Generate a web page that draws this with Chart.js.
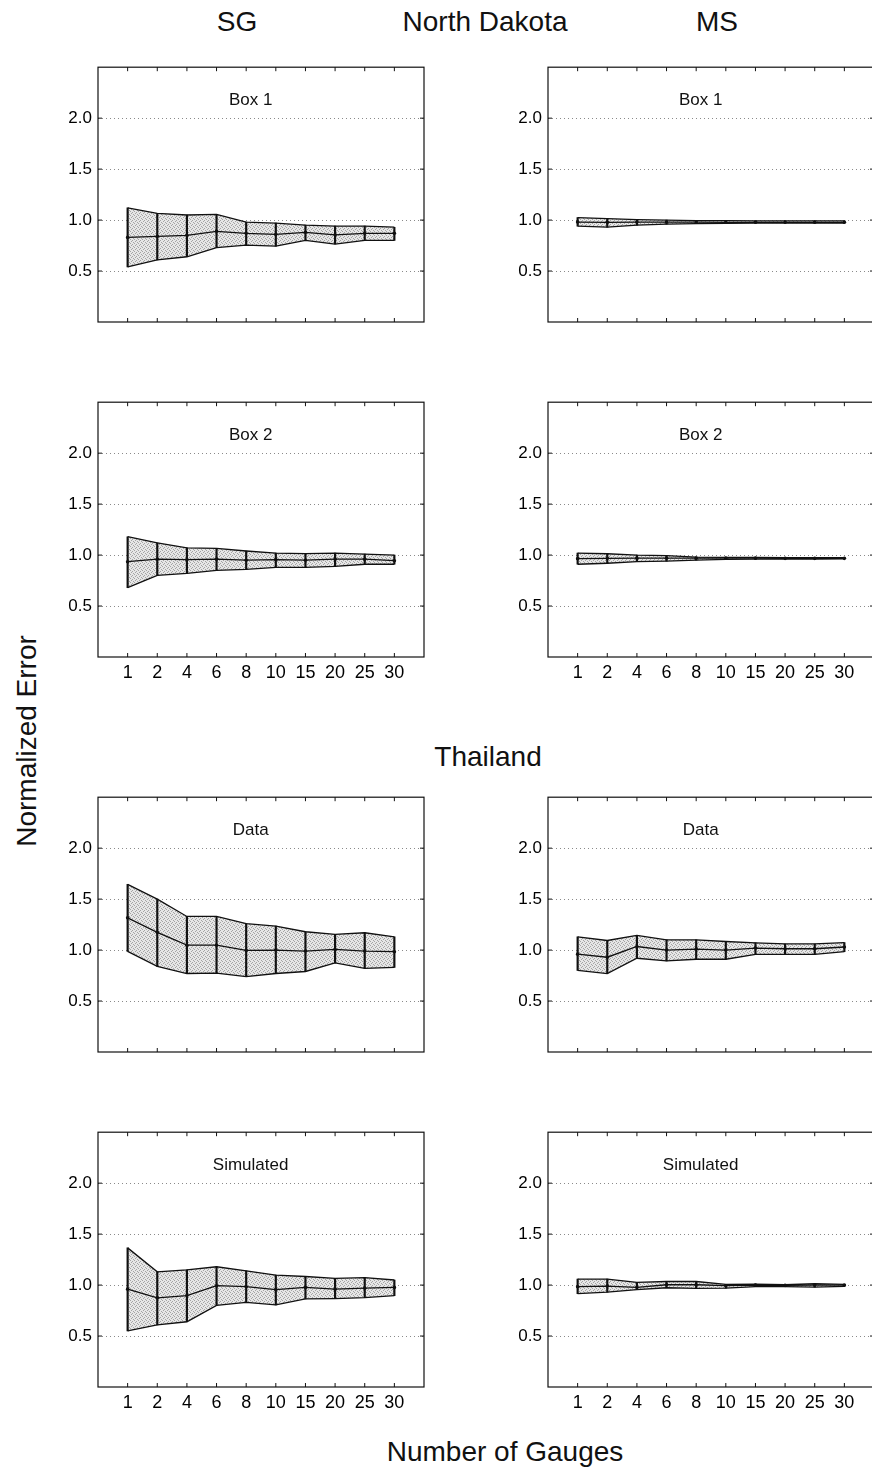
<!DOCTYPE html>
<html>
<head>
<meta charset="utf-8">
<script src="https://cdn.jsdelivr.net/npm/chart.js@4.4.1/dist/chart.umd.min.js"></script>
<style>
  html, body { margin: 0; padding: 0; width: 872px; height: 1469px; overflow: hidden; background: #fff; }
  body { position: relative; font-family: Arial, "Liberation Sans", sans-serif; color: #111; }
  .lbl { position: absolute; font-size: 28px; white-space: nowrap; transform: translate(-50%, -50%); }
  canvas { position: absolute; }
</style>
</head>
<body>
<div class="lbl" style="left:237px;top:22px">SG</div>
<div class="lbl" style="left:485px;top:22px">North Dakota</div>
<div class="lbl" style="left:717px;top:22px">MS</div>
<div class="lbl" style="left:488px;top:757px">Thailand</div>
<div class="lbl" style="left:505px;top:1452px">Number of Gauges</div>
<div class="lbl" style="left:27px;top:741px;transform:translate(-50%,-50%) rotate(-90deg)">Normalized Error</div>

<canvas id="c1" width="410" height="311" style="left:30px;top:51px"></canvas>
<canvas id="c2" width="410" height="311" style="left:480px;top:51px"></canvas>
<canvas id="c3" width="410" height="311" style="left:30px;top:386px"></canvas>
<canvas id="c4" width="410" height="311" style="left:480px;top:386px"></canvas>
<canvas id="c5" width="410" height="311" style="left:30px;top:781px"></canvas>
<canvas id="c6" width="410" height="311" style="left:480px;top:781px"></canvas>
<canvas id="c7" width="410" height="311" style="left:30px;top:1116px"></canvas>
<canvas id="c8" width="410" height="311" style="left:480px;top:1116px"></canvas>

<script>
const gauges = ['1', '2', '4', '6', '8', '10', '15', '20', '25', '30'];
const yTicks = [0.5, 1.0, 1.5, 2.0];

// North Dakota - SG
const sgBox1Upper = [1.12, 1.065, 1.05, 1.055, 0.98, 0.97, 0.95, 0.94, 0.94, 0.93];
const sgBox1Mean  = [0.83, 0.84, 0.85, 0.89, 0.87, 0.86, 0.88, 0.855, 0.87, 0.87];
const sgBox1Lower = [0.54, 0.61, 0.64, 0.73, 0.755, 0.745, 0.80, 0.765, 0.80, 0.80];

const sgBox2Upper = [1.18, 1.12, 1.07, 1.065, 1.04, 1.02, 1.015, 1.02, 1.01, 1.0];
const sgBox2Mean  = [0.935, 0.96, 0.955, 0.96, 0.95, 0.955, 0.95, 0.96, 0.96, 0.945];
const sgBox2Lower = [0.68, 0.80, 0.82, 0.85, 0.86, 0.88, 0.88, 0.89, 0.91, 0.91];

// North Dakota - MS
const msBox1Upper = [1.025, 1.015, 1.005, 1.0, 0.995, 0.995, 0.993, 0.993, 0.993, 0.993];
const msBox1Mean  = [0.98, 0.978, 0.98, 0.98, 0.98, 0.978, 0.978, 0.978, 0.978, 0.978];
const msBox1Lower = [0.94, 0.93, 0.95, 0.96, 0.965, 0.968, 0.97, 0.97, 0.97, 0.97];

const msBox2Upper = [1.02, 1.013, 1.0, 0.995, 0.98, 0.978, 0.978, 0.975, 0.975, 0.975];
const msBox2Mean  = [0.965, 0.968, 0.97, 0.97, 0.97, 0.97, 0.97, 0.968, 0.968, 0.968];
const msBox2Lower = [0.91, 0.92, 0.935, 0.94, 0.95, 0.958, 0.96, 0.96, 0.96, 0.962];

// Thailand - SG
const sgDataUpper = [1.645, 1.50, 1.33, 1.33, 1.26, 1.235, 1.18, 1.155, 1.17, 1.13];
const sgDataMean  = [1.316, 1.174, 1.048, 1.048, 0.997, 1.0, 0.99, 1.006, 0.99, 0.984];
const sgDataLower = [0.987, 0.84, 0.77, 0.774, 0.74, 0.77, 0.79, 0.874, 0.82, 0.83];

const sgSimUpper = [1.365, 1.13, 1.15, 1.18, 1.14, 1.097, 1.084, 1.065, 1.074, 1.05];
const sgSimMean  = [0.96, 0.874, 0.897, 0.994, 0.984, 0.955, 0.977, 0.96, 0.97, 0.977];
const sgSimLower = [0.55, 0.61, 0.64, 0.80, 0.83, 0.806, 0.865, 0.868, 0.877, 0.897];

// Thailand - MS
const msDataUpper = [1.13, 1.094, 1.145, 1.10, 1.10, 1.084, 1.07, 1.06, 1.06, 1.074];
const msDataMean  = [0.96, 0.93, 1.035, 1.0, 1.01, 1.0, 1.02, 1.013, 1.013, 1.03];
const msDataLower = [0.80, 0.77, 0.92, 0.894, 0.91, 0.91, 0.958, 0.958, 0.958, 0.984];

const msSimUpper = [1.058, 1.058, 1.026, 1.035, 1.035, 1.006, 1.01, 1.003, 1.013, 1.006];
const msSimMean  = [0.984, 0.99, 0.977, 1.003, 1.003, 0.994, 1.0, 0.997, 1.0, 1.0];
const msSimLower = [0.916, 0.93, 0.955, 0.974, 0.968, 0.97, 0.984, 0.984, 0.98, 0.987];

const panels = [
  { id: 'c1', title: 'Box 1', upper: sgBox1Upper, mean: sgBox1Mean, lower: sgBox1Lower, xLabels: false },
  { id: 'c2', title: 'Box 1', upper: msBox1Upper, mean: msBox1Mean, lower: msBox1Lower, xLabels: false },
  { id: 'c3', title: 'Box 2', upper: sgBox2Upper, mean: sgBox2Mean, lower: sgBox2Lower, xLabels: true },
  { id: 'c4', title: 'Box 2', upper: msBox2Upper, mean: msBox2Mean, lower: msBox2Lower, xLabels: true },
  { id: 'c5', title: 'Data', upper: sgDataUpper, mean: sgDataMean, lower: sgDataLower, xLabels: false },
  { id: 'c6', title: 'Data', upper: msDataUpper, mean: msDataMean, lower: msDataLower, xLabels: false },
  { id: 'c7', title: 'Simulated', upper: sgSimUpper, mean: sgSimMean, lower: sgSimLower, xLabels: true },
  { id: 'c8', title: 'Simulated', upper: msSimUpper, mean: msSimMean, lower: msSimLower, xLabels: true }
];

const FONT = 'Arial, "Liberation Sans", sans-serif';

function toPoints(values) {
  return values.map((v, i) => ({ x: i + 1, y: v }));
}

// grey stipple like the printed shading
function makeStipple() {
  const c = document.createElement('canvas');
  c.width = 4;
  c.height = 4;
  const g = c.getContext('2d');
  g.fillStyle = '#e6e6e6';
  g.fillRect(0, 0, 4, 4);
  g.fillStyle = '#a4a4a4';
  [[0, 0], [2, 1], [1, 2], [3, 3]].forEach(([x, y]) => g.fillRect(x, y, 1, 1));
  return g.createPattern(c, 'repeat');
}

// box frame, inward ticks and the panel title
const framePlugin = {
  id: 'frame',
  afterDraw(chart, args, opts) {
    const { ctx, chartArea: a, scales: { x, y } } = chart;
    ctx.save();
    ctx.strokeStyle = '#111';
    ctx.lineWidth = 1.2;
    ctx.strokeRect(a.left, a.top, a.right - a.left, a.bottom - a.top);

    ctx.lineWidth = 1;
    ctx.beginPath();
    gauges.forEach((g, i) => {
      const px = x.getPixelForValue(i + 1);
      ctx.moveTo(px, a.bottom);
      ctx.lineTo(px, a.bottom - 4);
      ctx.moveTo(px, a.top);
      ctx.lineTo(px, a.top + 4);
    });
    yTicks.forEach(v => {
      const py = y.getPixelForValue(v);
      ctx.moveTo(a.left, py);
      ctx.lineTo(a.left + 4, py);
      ctx.moveTo(a.right, py);
      ctx.lineTo(a.right - 4, py);
    });
    ctx.stroke();

    ctx.font = '17px ' + FONT;
    ctx.fillStyle = '#111';
    ctx.textAlign = 'center';
    ctx.textBaseline = 'middle';
    ctx.fillText(opts.title, x.getPixelForValue(5.15), a.top + 33);
    ctx.restore();
  }
};

const stipple = makeStipple();

panels.forEach(p => {
  new Chart(document.getElementById(p.id), {
    type: 'line',
    data: {
      datasets: [
        {
          data: toPoints(p.upper),
          borderColor: '#111',
          borderWidth: 1.3,
          pointRadius: 0,
          tension: 0,
          fill: '+1',
          backgroundColor: stipple
        },
        {
          data: toPoints(p.lower),
          borderColor: '#111',
          borderWidth: 1.3,
          pointRadius: 0,
          tension: 0,
          fill: false
        },
        {
          data: toPoints(p.mean),
          borderColor: '#111',
          borderWidth: 1.3,
          pointRadius: 1.8,
          pointBackgroundColor: '#111',
          pointBorderWidth: 0,
          tension: 0,
          fill: false
        },
        {
          type: 'bar',
          data: gauges.map((g, i) => ({ x: i + 1, y: [p.lower[i], p.upper[i]] })),
          backgroundColor: '#111',
          borderWidth: 0,
          barThickness: 1.5
        }
      ]
    },
    options: {
      responsive: false,
      animation: false,
      layout: { padding: { top: 12, right: 16, left: 0, bottom: 0 } },
      plugins: {
        legend: { display: false },
        tooltip: { enabled: false },
        filler: { drawTime: 'beforeDatasetsDraw' },
        frame: { title: p.title }
      },
      scales: {
        x: {
          type: 'linear',
          min: 0,
          max: 11,
          offset: false,
          grid: { display: false, drawTicks: false },
          border: { display: false },
          ticks: {
            display: p.xLabels,
            stepSize: 1,
            autoSkip: false,
            maxRotation: 0,
            padding: 5,
            color: '#000',
            font: { size: 18, family: FONT },
            callback: v => (v >= 1 && v <= 10) ? gauges[v - 1] : ''
          },
          afterFit: s => { s.height = 40; }
        },
        y: {
          min: 0,
          max: 2.5,
          grid: {
            color: c => (c.tick && c.tick.value > 0 && c.tick.value < 2.5) ? '#8a8a8a' : 'transparent',
            lineWidth: 1,
            drawTicks: false
          },
          border: { display: false, dash: [1, 3] },
          ticks: {
            stepSize: 0.5,
            padding: 6,
            color: '#000',
            font: { size: 17, family: FONT },
            callback: v => yTicks.includes(v) ? v.toFixed(1) : ''
          },
          afterFit: s => { s.width = 68; }
        }
      }
    },
    plugins: [framePlugin]
  });
});
</script>
</body>
</html>
